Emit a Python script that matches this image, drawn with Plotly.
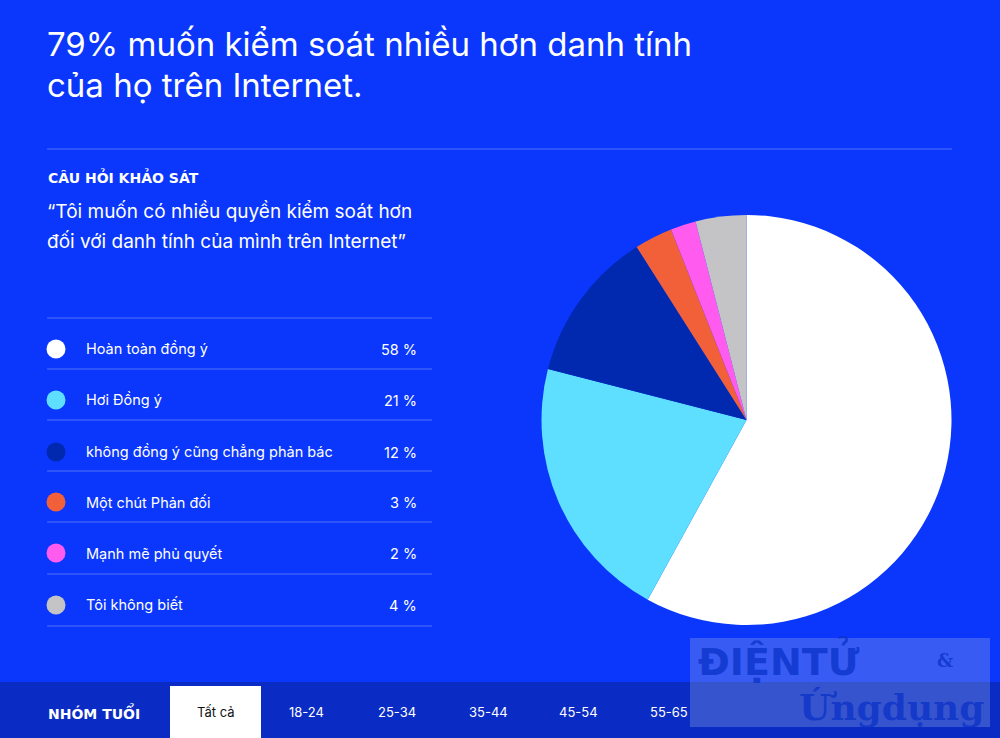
import plotly.graph_objects as go

# ---- data ----
categories = ["Hoàn toàn đồng ý", "Hơi Đồng ý", "không đồng ý cũng chẳng phản bác",
              "Một chút Phản đối", "Mạnh mẽ phủ quyết", "Tôi không biết"]
values = [58, 21, 12, 3, 2, 4]
colors = ["#ffffff", "#5fdfff", "#0029b0", "#f2603a", "#ff5cef", "#c4c4c6"]
age_tabs = ["Tất cả", "18-24", "25-34", "35-44", "45-54", "55-65"]

title_lines = ["79% muốn kiểm soát nhiều hơn danh tính", "của họ trên Internet."]
question_label = "CÂU HỎI KHẢO SÁT"
question_lines = ["“Tôi muốn có nhiều quyền kiểm soát hơn", "đối với danh tính của mình trên Internet”"]

BG = "#0a37fb"
BAR = "#0a2cc4"
FONT = "Inter"
BOLDFONT = "DejaVu Sans"

fig = go.Figure()

fig.add_trace(go.Pie(
    labels=categories, values=values, sort=False, direction="clockwise", rotation=0,
    marker=dict(colors=colors, line=dict(width=0)), textinfo="none", hoverinfo="label+percent",
    domain=dict(x=[0.541, 0.952], y=[1 - 625 / 738, 1 - 215 / 738]), showlegend=False,
))

# legend markers via scatter on a pixel-like axis
row_y = [349, 400, 452, 502, 553, 605]
fig.add_trace(go.Scatter(
    x=[56] * len(categories), y=row_y, mode="markers",
    marker=dict(size=19, color=colors, line=dict(width=0)), showlegend=False, hoverinfo="skip",
))

shapes = []
annotations = []

# title
for i, t in enumerate(title_lines):
    annotations.append(dict(x=45, y=44 + i * 41, text=t, showarrow=False, xanchor="left", yanchor="middle",
                            font=dict(family=FONT, size=33, color="white")))
# separator under title
shapes.append(dict(type="line", x0=47, x1=952, y0=149, y1=149, line=dict(color="rgba(255,255,255,0.3)", width=1)))

annotations.append(dict(x=46, y=177, text="<b>" + question_label + "</b>", showarrow=False, xanchor="left",
                        yanchor="middle", font=dict(family=BOLDFONT, size=14, color="white")))
for i, t in enumerate(question_lines):
    annotations.append(dict(x=45, y=211 + i * 30, text=t, showarrow=False, xanchor="left", yanchor="middle",
                            font=dict(family=FONT, size=19, color="white")))

# legend rows
sep_y = [318, 369, 420, 471, 522, 574, 626]
for y in sep_y:
    shapes.append(dict(type="line", x0=47, x1=432, y0=y, y1=y, line=dict(color="rgba(255,255,255,0.3)", width=1)))
for i, (c, v) in enumerate(zip(categories, values)):
    annotations.append(dict(x=84, y=row_y[i], text=c, showarrow=False, xanchor="left", yanchor="middle",
                            font=dict(family=FONT, size=14.5, color="white")))
    annotations.append(dict(x=419, y=row_y[i], text=f"{v} %", showarrow=False, xanchor="right", yanchor="middle",
                            font=dict(family=FONT, size=14.5, color="white")))

# bottom bar
shapes.append(dict(type="rect", x0=0, x1=1000, y0=682, y1=738, fillcolor=BAR, line=dict(width=0), layer="below"))
shapes.append(dict(type="rect", x0=170, x1=261, y0=686, y1=738, fillcolor="white", line=dict(width=0), layer="below"))
annotations.append(dict(x=46, y=712, text="<b>NHÓM TUỔI</b>", showarrow=False, xanchor="left", yanchor="middle",
                        font=dict(family=BOLDFONT, size=14, color="white")))
tab_x = [216, 306, 397, 488, 578, 669]
for i, t in enumerate(age_tabs):
    annotations.append(dict(x=tab_x[i], y=712, text=t, showarrow=False, xanchor="center", yanchor="middle",
                            font=dict(family=FONT, size=13, color=("#111111" if i == 0 else "white"))))

# watermark
shapes.append(dict(type="rect", x0=690, x1=990, y0=638, y1=727, fillcolor="rgba(140,160,230,0.35)",
                   line=dict(width=0), layer="above"))
annotations.append(dict(x=696, y=660, text="<b>ĐIỆNTỬ</b>", showarrow=False, xanchor="left", yanchor="middle",
                        font=dict(family="DejaVu Sans", size=38, color="rgba(10,50,200,0.75)")))
annotations.append(dict(x=945, y=660, text="<b>&</b>", showarrow=False, xanchor="center", yanchor="middle",
                        font=dict(family="DejaVu Serif", size=18, color="rgba(10,50,200,0.75)")))
annotations.append(dict(x=986, y=707, text="<b>Ứngdụng</b>", showarrow=False, xanchor="right", yanchor="middle",
                        font=dict(family="DejaVu Serif", size=36, color="rgba(10,50,200,0.75)")))

fig.update_layout(
    width=1000, height=738, margin=dict(l=0, r=0, t=0, b=0),
    paper_bgcolor=BG, plot_bgcolor="rgba(0,0,0,0)",
    xaxis=dict(range=[0, 1000], visible=False, domain=[0, 1], fixedrange=True),
    yaxis=dict(range=[738, 0], visible=False, domain=[0, 1], fixedrange=True),
    shapes=shapes, annotations=annotations, showlegend=False,
)

fig.write_html("out.html", config={"displayModeBar": False},
               post_script="document.body.style.margin='0';document.body.style.overflow='hidden';")
